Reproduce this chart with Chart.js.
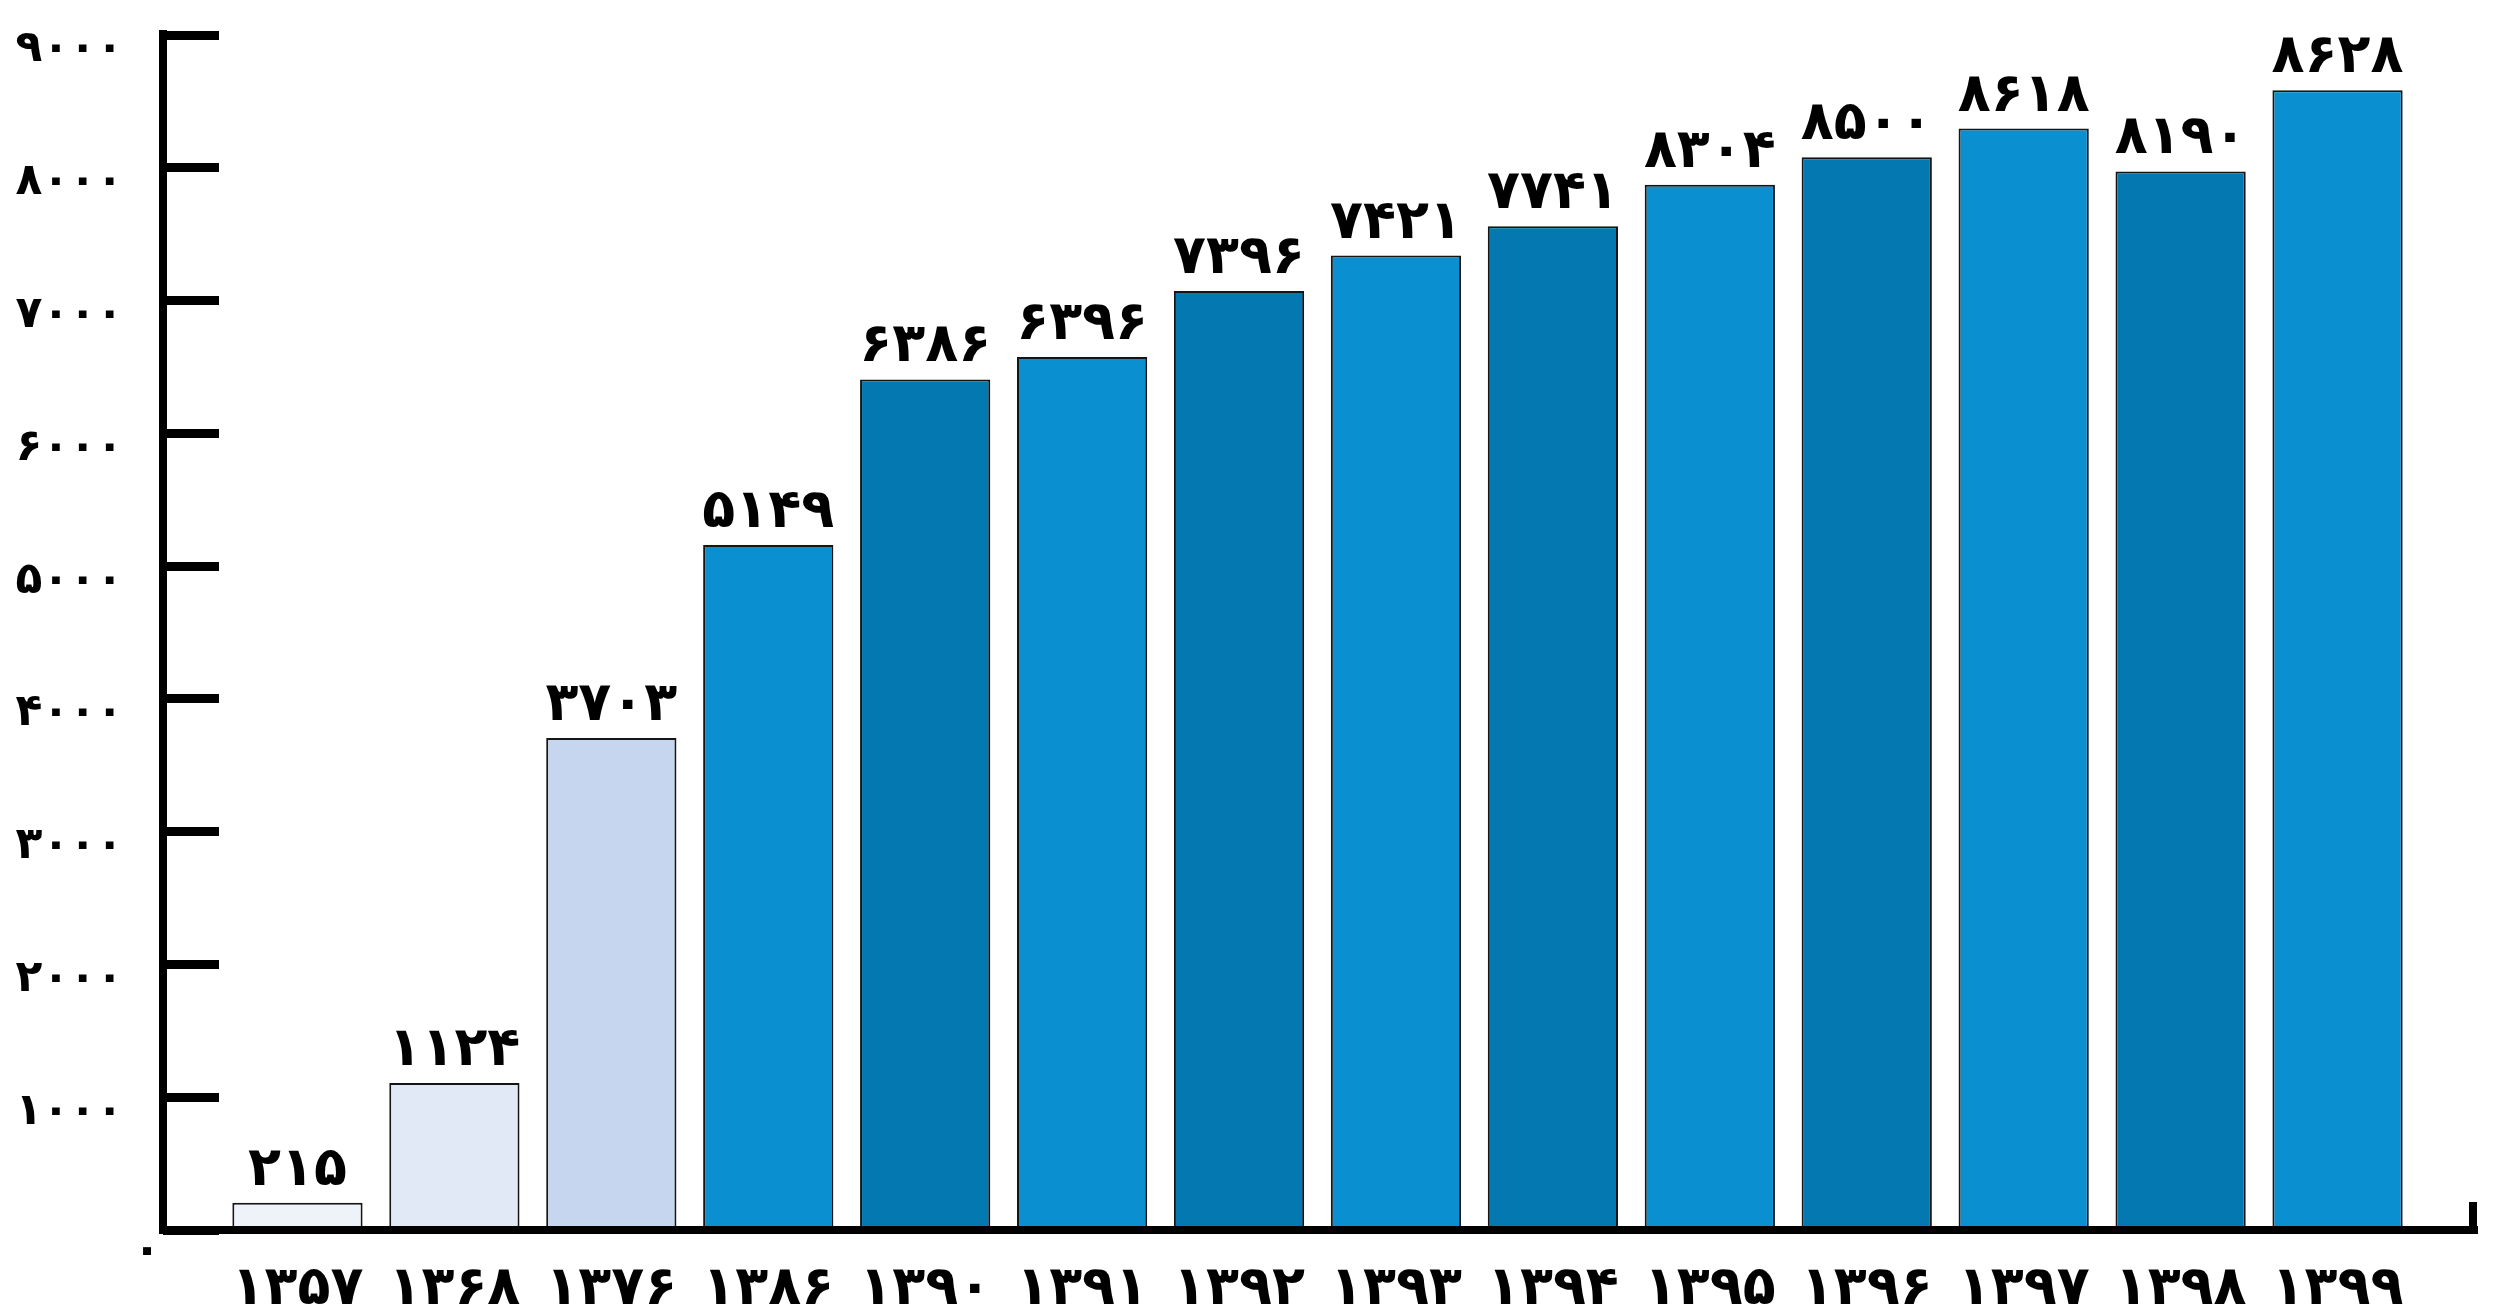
<!DOCTYPE html>
<html>
<head>
<meta charset="utf-8">
<script src="https://cdn.jsdelivr.net/npm/chart.js@4/dist/chart.umd.min.js"></script>
<style>
  body { margin: 0; background: #fff; }
</style>
</head>
<body>
<canvas id="barChart" width="2500" height="1313"></canvas>
<script>
// years on the x axis
const years = [1357, 1368, 1376, 1386, 1390, 1391, 1392, 1393, 1394, 1395, 1396, 1397, 1398, 1399];
// bar heights as drawn in the picture
const barHeights = [205, 1107, 3706, 5159, 6406, 6574, 7072, 7339, 7560, 7872, 8080, 8295, 7972, 8583];
// numbers printed above the bars
const printedValues = [215, 1124, 3703, 5149, 6386, 6396, 7396, 7421, 7741, 8304, 8500, 8618, 8190, 8628];
const barColors = ['#eef2f9', '#e1e9f6', '#c6d6ee', '#0a8fd1', '#0479b1', '#0a8fd1', '#0479b1',
  '#0a8fd1', '#0479b1', '#0a8fd1', '#0479b1', '#0a8fd1', '#0479b1', '#0a8fd1'];
const yMax = 9000;
const yStep = 1000;

const labelFont = 'bold 54px "DejaVu Sans"';

function toPersian(n) {
  return String(n).replace(/\d/g, d => '۰۱۲۳۴۵۶۷۸۹'[d]);
}

const axisLines = {
  id: 'axisLines',
  afterDraw(chart) {
    const ctx = chart.ctx;
    const y = chart.scales.y;
    const zeroY = y.getPixelForValue(0);
    const topY = y.getPixelForValue(yMax);
    ctx.save();
    ctx.fillStyle = '#000';
    // vertical axis
    ctx.fillRect(159, topY - 5, 8, zeroY - topY + 9);
    // base line
    ctx.fillRect(159, zeroY - 4, 2478 - 159, 8);
    // small tick at the right end
    ctx.fillRect(2469, zeroY - 28, 8, 32);
    // zero label
    ctx.font = 'bold 46px "DejaVu Sans"';
    ctx.textAlign = 'center';
    ctx.textBaseline = 'middle';
    ctx.fillText(toPersian(0), 147, zeroY + 22);
    // numbers above bars
    ctx.font = labelFont;
    const meta = chart.getDatasetMeta(0);
    ctx.textBaseline = 'alphabetic';
    meta.data.forEach((bar, i) => {
      ctx.fillText(toPersian(printedValues[i]), bar.x, bar.y - 18);
    });
    ctx.restore();
  }
};

new Chart(document.getElementById('barChart'), {
  type: 'bar',
  data: {
    labels: years.map(toPersian),
    datasets: [{
      data: barHeights,
      backgroundColor: barColors,
      borderColor: '#151515',
      borderWidth: 2,
      categoryPercentage: 1,
      barPercentage: 0.83
    }]
  },
  options: {
    responsive: false,
    animation: false,
    devicePixelRatio: 1,
    layout: {
      padding: { top: 35, right: 84, left: 0, bottom: 0 }
    },
    plugins: {
      legend: { display: false },
      tooltip: { enabled: false }
    },
    scales: {
      x: {
        afterFit(scale) {
          scale.height = 83;
          scale.paddingLeft = 0;
          scale.paddingRight = 0;
        },
        grid: { display: false },
        border: { display: false },
        ticks: {
          color: '#000',
          font: { family: 'DejaVu Sans', size: 54, weight: 'bold' },
          padding: 20,
          maxRotation: 0,
          autoSkip: false
        }
      },
      y: {
        min: 0,
        max: yMax,
        afterFit(scale) {
          scale.width = 219;
          scale.paddingTop = 0;
          scale.paddingBottom = 0;
        },
        grid: {
          drawOnChartArea: false,
          drawTicks: true,
          tickLength: 56,
          tickWidth: 9,
          tickColor: '#000'
        },
        border: { display: false },
        ticks: {
          stepSize: yStep,
          color: '#000',
          padding: 40,
          labelOffset: 15,
          font: { family: 'DejaVu Sans', size: 44, weight: 'bold' },
          callback: v => v === 0 ? '' : toPersian(v)
        }
      }
    }
  },
  plugins: [axisLines]
});
</script>
</body>
</html>
